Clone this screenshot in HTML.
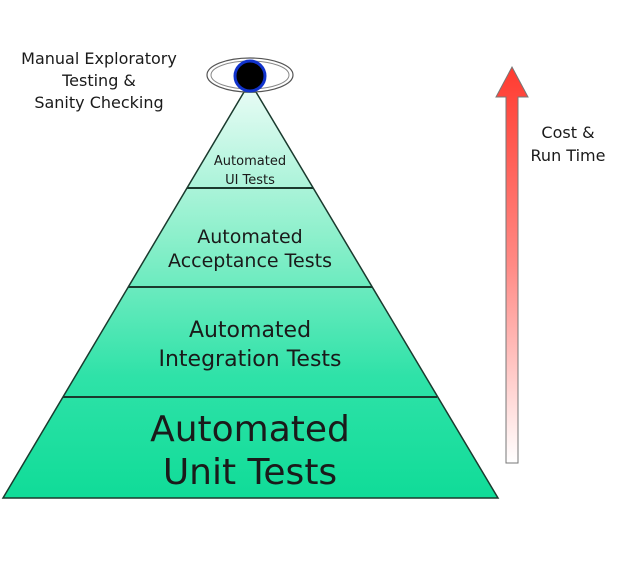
<!DOCTYPE html>
<html><head><style>
html,body{margin:0;padding:0;background:#fff;}
svg{display:block;}
text{font-family:"DejaVu Sans","Liberation Sans",sans-serif;fill:#1a1a1a;}
</style></head><body>
<svg width="644" height="573" viewBox="0 0 644 573" xmlns="http://www.w3.org/2000/svg">
<defs>
<linearGradient id="g" x1="0" y1="92" x2="0" y2="498" gradientUnits="userSpaceOnUse">
<stop offset="0" stop-color="#e6fbf4"/>
<stop offset="0.35" stop-color="#8ef0cc"/>
<stop offset="0.7" stop-color="#2fe2a8"/>
<stop offset="1" stop-color="#10dc98"/>
</linearGradient>
<linearGradient id="r" x1="0" y1="67" x2="0" y2="463" gradientUnits="userSpaceOnUse">
<stop offset="0" stop-color="#ff3b30"/>
<stop offset="0.5" stop-color="#ff8a85"/>
<stop offset="1" stop-color="#ffffff"/>
</linearGradient>
</defs>
<polygon points="244,92 256,92 498,498 3,498" fill="url(#g)" stroke="#1a3a2e" stroke-width="1.5"/>
<line x1="187" y1="188" x2="313" y2="188" stroke="#1a3a2e" stroke-width="2"/>
<line x1="128" y1="287" x2="372" y2="287" stroke="#1a3a2e" stroke-width="2"/>
<line x1="63" y1="397" x2="437" y2="397" stroke="#1a3a2e" stroke-width="2"/>
<ellipse cx="250" cy="75" rx="43" ry="17" fill="#fff" stroke="#555" stroke-width="1.2"/>
<ellipse cx="250" cy="75" rx="39" ry="14" fill="none" stroke="#888" stroke-width="1"/>
<circle cx="250" cy="76" r="15" fill="#000" stroke="#1133cc" stroke-width="3"/>
<text x="250" y="165" font-size="13" text-anchor="middle">Automated</text>
<text x="250" y="184" font-size="13" text-anchor="middle">UI Tests</text>
<text x="250" y="243" font-size="19" text-anchor="middle">Automated</text>
<text x="250" y="267" font-size="19" text-anchor="middle">Acceptance Tests</text>
<text x="250" y="337" font-size="22" text-anchor="middle">Automated</text>
<text x="250" y="366" font-size="22" text-anchor="middle">Integration Tests</text>
<text x="250" y="441" font-size="36" text-anchor="middle">Automated</text>
<text x="250" y="484" font-size="36" text-anchor="middle">Unit Tests</text>
<text x="99" y="64" font-size="16" text-anchor="middle">Manual Exploratory</text>
<text x="99" y="86" font-size="16" text-anchor="middle">Testing &amp;</text>
<text x="99" y="108" font-size="16" text-anchor="middle">Sanity Checking</text>
<text x="568" y="138" font-size="16" text-anchor="middle">Cost &amp;</text>
<text x="568" y="161" font-size="16" text-anchor="middle">Run Time</text>
<polygon points="512,67 528,97 518,97 518,463 506,463 506,97 496,97" fill="url(#r)" stroke="#777" stroke-width="1"/>
</svg>
</body></html>
